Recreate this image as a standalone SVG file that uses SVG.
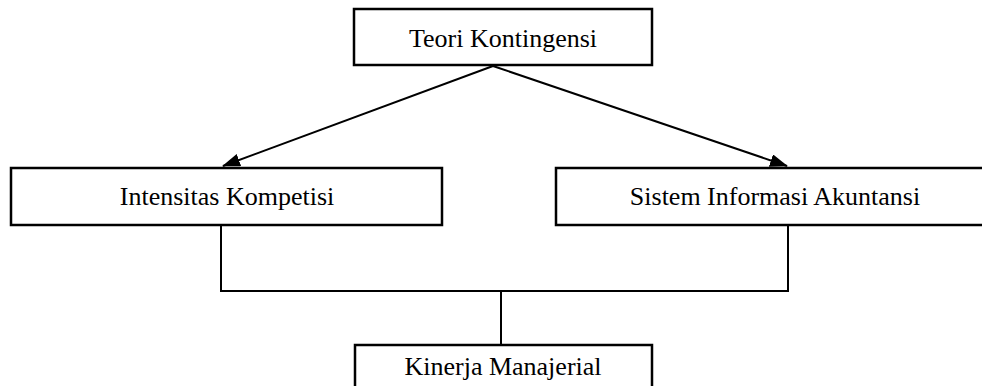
<svg xmlns="http://www.w3.org/2000/svg" width="982" height="386" viewBox="0 0 982 386">
<style>
.box{fill:#fff;stroke:#000;stroke-width:2.5}
.lbl{font-family:"Liberation Serif","Times New Roman",serif;font-size:26px;fill:#000;text-anchor:middle}
.ln{stroke:#000;stroke-width:2;fill:none}
</style>
<defs>
<marker id="ah" markerWidth="18" markerHeight="13" refX="17" refY="6.5" orient="auto" markerUnits="userSpaceOnUse" viewBox="0 0 18 13">
<path d="M0,0 L18,6.5 L0,13 z" fill="#000"/>
</marker>
</defs>
<g id="connectors">
<line class="ln" x1="493" y1="66" x2="223" y2="166" marker-end="url(#ah)"/>
<line class="ln" x1="493" y1="66" x2="787" y2="166" marker-end="url(#ah)"/>
<polyline class="ln" points="221,225 221,291 788,291 788,225"/>
<line class="ln" x1="501" y1="291" x2="501" y2="345"/>
</g>
<g id="teori">
<rect class="box" x="354" y="9" width="298" height="56"/>
<text class="lbl" x="503" y="47">Teori Kontingensi</text>
</g>
<g id="intensitas">
<rect class="box" x="11" y="168" width="431" height="57"/>
<text class="lbl" x="227" y="205">Intensitas Kompetisi</text>
</g>
<g id="sia">
<rect class="box" x="556" y="168" width="440" height="57"/>
<text class="lbl" x="775" y="205">Sistem Informasi Akuntansi</text>
</g>
<g id="kinerja">
<rect class="box" x="355" y="345" width="297" height="56"/>
<text class="lbl" x="503" y="375">Kinerja Manajerial</text>
</g>
</svg>
